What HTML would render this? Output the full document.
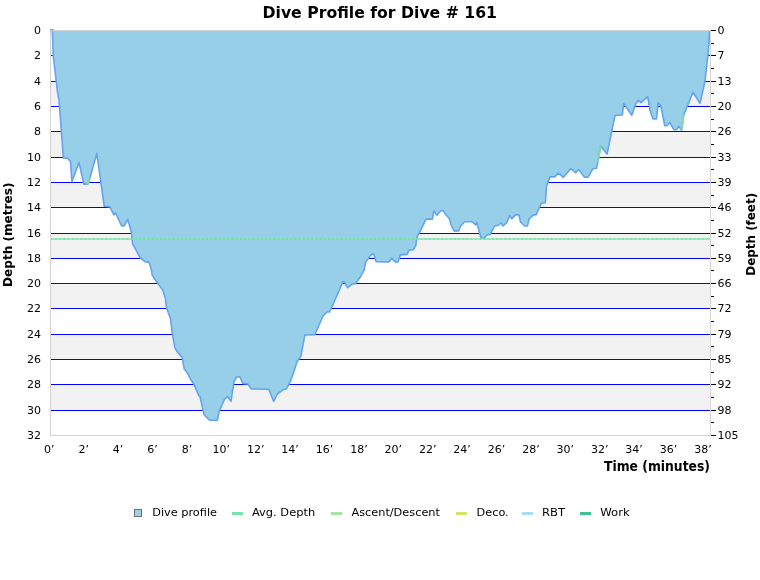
<!DOCTYPE html>
<html><head><meta charset="utf-8"><title>Dive Profile for Dive # 161</title>
<style>
html,body{margin:0;padding:0;background:#fff;}
svg{display:block;}
text{font-family:"DejaVu Sans","Liberation Sans",sans-serif;fill:#000;}
.b{font-weight:bold;}
.t{font-size:11px;}
</style></head><body>
<svg width="760" height="580" viewBox="0 0 760 580">
<rect width="760" height="580" fill="#fff"/>
<rect x="51" y="81" width="659" height="25" fill="#f2f2f2"/>
<rect x="51" y="131" width="659" height="26" fill="#f2f2f2"/>
<rect x="51" y="182" width="659" height="25" fill="#f2f2f2"/>
<rect x="51" y="233" width="659" height="25" fill="#f2f2f2"/>
<rect x="51" y="283" width="659" height="25" fill="#f2f2f2"/>
<rect x="51" y="334" width="659" height="25" fill="#f2f2f2"/>
<rect x="51" y="384" width="659" height="26" fill="#f2f2f2"/>
<rect x="51" y="55" width="660" height="1" fill="#0000ff"/>
<rect x="51" y="81" width="660" height="1" fill="#0000ff"/>
<rect x="51" y="106" width="660" height="1" fill="#0000ff"/>
<rect x="51" y="131" width="660" height="1" fill="#0000ff"/>
<rect x="51" y="157" width="660" height="1" fill="#0000ff"/>
<rect x="51" y="182" width="660" height="1" fill="#0000ff"/>
<rect x="51" y="207" width="660" height="1" fill="#0000ff"/>
<rect x="51" y="233" width="660" height="1" fill="#0000ff"/>
<rect x="51" y="258" width="660" height="1" fill="#0000ff"/>
<rect x="51" y="283" width="660" height="1" fill="#0000ff"/>
<rect x="51" y="308" width="660" height="1" fill="#0000ff"/>
<rect x="51" y="334" width="660" height="1" fill="#0000ff"/>
<rect x="51" y="359" width="660" height="1" fill="#0000ff"/>
<rect x="51" y="384" width="660" height="1" fill="#0000ff"/>
<rect x="51" y="410" width="660" height="1" fill="#0000ff"/>
<polygon points="52.3,30 53.3,56 57.5,92 59,100 63.4,157.9 67.6,158.3 70.5,161.5 71.9,181.7 79,162.4 83.8,184.1 87.6,184.1 90,177.6 96.8,153.6 104.3,206.3 109.8,206.7 113.8,215 115.4,212.6 121.7,226 124,226 127.7,219.4 131.3,232 132.6,243.9 140,257.4 144.8,261.6 148.8,262.1 151.1,268.5 152.3,275.6 157.5,282.7 163,290.6 165.4,298.6 166.5,308 170.3,318 172.4,333.8 175,348.1 177.4,352 182.2,357.6 184.1,368.7 187.3,372.7 190.9,379.8 194.1,384.6 198.8,395.7 200,396.5 204,414.7 209.6,420.2 217.5,420.2 219.1,411.5 224.4,399.5 227.6,396.5 231,401.4 233.9,381.8 236.7,377 239.9,376.8 242.8,383.4 247.8,384 251.4,389 268.8,389.2 273.7,401.4 277.5,394 282.5,390.1 286.4,388.8 290.4,381.4 294.3,370.3 296.9,362 300.8,356.4 304.8,335 314.8,334.7 323,316 327,312 329.4,312 332.5,305.7 342.8,281.9 344.4,281.9 347.6,287.7 352.4,283.9 355.5,283.6 360.7,276.5 364.3,269.7 365.5,262.4 371.4,254.4 373.8,254.4 376.1,261.6 389.3,261.9 391.5,258.1 395.2,261.9 398,261.9 400.4,254.9 407,254.4 409,250.1 413.4,249.7 415.8,245.7 416.9,237 419.7,232.2 426.1,219.1 432.4,219.1 434,210.8 436.8,215.3 441.1,210.5 443.5,210.8 445.1,214 449.5,218.8 451.4,225.9 454.3,231.1 458.6,231 460.7,226 464.7,221.8 472.4,221.7 475.6,224.9 476.9,222.4 478.8,230 481.1,238.2 484.3,238.2 486.7,235 490.2,234.4 494.6,226 498.6,225.2 501,222.8 503,226 506.5,222.8 509.7,215.7 511.7,218.9 515.5,214.9 518.9,214.9 520.5,222 524.7,226 527.4,226 529.2,218.9 533.4,214.9 536.1,214.9 541.4,203 545.3,202.7 546.6,185.6 550.1,176.9 554.8,176.9 558.3,173 563.3,177.4 570.8,168.6 575.6,172.7 578.8,169.5 584.3,177.1 588,177.1 593,168.7 596.5,168.2 597.8,162.4 600.6,145.7 607,154 615,115.5 622.3,115 623.8,103.7 631.8,115.3 635.8,103.7 638.5,100.3 640.8,102.7 647.8,96.7 650,110.6 653,119 656.5,119 658.2,102.7 660.9,106 664.7,125.7 666.8,125.7 669.6,122.5 674.1,129.8 676.5,129.8 678.8,126.3 681.5,130.3 683.6,115.2 693,92.3 700,103.4 705,81 707.9,55.5 709,43 709.6,30 710,30 52.3,30" fill="#97cfe9"/>
<polyline points="52.3,30 53.3,56 57.5,92 59,100 63.4,157.9 67.6,158.3 70.5,161.5 71.9,181.7 79,162.4 83.8,184.1 87.6,184.1 90,177.6 96.8,153.6 104.3,206.3 109.8,206.7 113.8,215 115.4,212.6 121.7,226 124,226 127.7,219.4 131.3,232 132.6,243.9 140,257.4 144.8,261.6 148.8,262.1 151.1,268.5 152.3,275.6 157.5,282.7 163,290.6 165.4,298.6 166.5,308 170.3,318 172.4,333.8 175,348.1 177.4,352 182.2,357.6 184.1,368.7 187.3,372.7 190.9,379.8 194.1,384.6 198.8,395.7 200,396.5 204,414.7 209.6,420.2 217.5,420.2 219.1,411.5 224.4,399.5 227.6,396.5 231,401.4 233.9,381.8 236.7,377 239.9,376.8 242.8,383.4 247.8,384 251.4,389 268.8,389.2 273.7,401.4 277.5,394 282.5,390.1 286.4,388.8 290.4,381.4 294.3,370.3 296.9,362 300.8,356.4 304.8,335 314.8,334.7 323,316 327,312 329.4,312 332.5,305.7 342.8,281.9 344.4,281.9 347.6,287.7 352.4,283.9 355.5,283.6 360.7,276.5 364.3,269.7 365.5,262.4 371.4,254.4 373.8,254.4 376.1,261.6 389.3,261.9 391.5,258.1 395.2,261.9 398,261.9 400.4,254.9 407,254.4 409,250.1 413.4,249.7 415.8,245.7 416.9,237 419.7,232.2 426.1,219.1 432.4,219.1 434,210.8 436.8,215.3 441.1,210.5 443.5,210.8 445.1,214 449.5,218.8 451.4,225.9 454.3,231.1 458.6,231 460.7,226 464.7,221.8 472.4,221.7 475.6,224.9 476.9,222.4 478.8,230 481.1,238.2 484.3,238.2 486.7,235 490.2,234.4 494.6,226 498.6,225.2 501,222.8 503,226 506.5,222.8 509.7,215.7 511.7,218.9 515.5,214.9 518.9,214.9 520.5,222 524.7,226 527.4,226 529.2,218.9 533.4,214.9 536.1,214.9 541.4,203 545.3,202.7 546.6,185.6 550.1,176.9 554.8,176.9 558.3,173 563.3,177.4 570.8,168.6 575.6,172.7 578.8,169.5 584.3,177.1 588,177.1 593,168.7 596.5,168.2 597.8,162.4 600.6,145.7 607,154 615,115.5 622.3,115 623.8,103.7 631.8,115.3 635.8,103.7 638.5,100.3 640.8,102.7 647.8,96.7 650,110.6 653,119 656.5,119 658.2,102.7 660.9,106 664.7,125.7 666.8,125.7 669.6,122.5 674.1,129.8 676.5,129.8 678.8,126.3 681.5,130.3 683.6,115.2 693,92.3 700,103.4 705,81 707.9,55.5 709,43 709.6,30" fill="none" stroke="#62a4f0" stroke-width="1.6" stroke-linejoin="round"/>
<path d="M87.6,184.1 L90,177.6 M597.8,162.4 L600.6,145.7 M681.5,130.3 L683.6,115.2" stroke="#7fdca0" stroke-width="2" fill="none"/>
<rect x="51" y="238" width="659" height="2" fill="#7fe6aa" fill-opacity="0.72"/><path d="M51,239H710" stroke="#4fdc90" stroke-opacity="0.35" stroke-width="2" stroke-dasharray="1.6 2.6" fill="none"/>
<rect x="50" y="30" width="1" height="406" fill="#d4d4d4"/>
<rect x="710" y="30" width="1" height="406" fill="#d4d4d4"/>
<rect x="50" y="435" width="661" height="1" fill="#d4d4d4"/>
<rect x="51" y="30" width="660" height="1" fill="#d4d4d4"/>
<rect x="50" y="29" width="3.6" height="1.3" fill="#6fabf0"/>
<rect x="711" y="30" width="5" height="1" fill="#000"/>
<rect x="711" y="43" width="3" height="1" fill="#000"/>
<rect x="711" y="55" width="5" height="1" fill="#000"/>
<rect x="711" y="68" width="3" height="1" fill="#000"/>
<rect x="711" y="81" width="5" height="1" fill="#000"/>
<rect x="711" y="93" width="3" height="1" fill="#000"/>
<rect x="711" y="106" width="5" height="1" fill="#000"/>
<rect x="711" y="119" width="3" height="1" fill="#000"/>
<rect x="711" y="131" width="5" height="1" fill="#000"/>
<rect x="711" y="144" width="3" height="1" fill="#000"/>
<rect x="711" y="157" width="5" height="1" fill="#000"/>
<rect x="711" y="169" width="3" height="1" fill="#000"/>
<rect x="711" y="182" width="5" height="1" fill="#000"/>
<rect x="711" y="195" width="3" height="1" fill="#000"/>
<rect x="711" y="207" width="5" height="1" fill="#000"/>
<rect x="711" y="220" width="3" height="1" fill="#000"/>
<rect x="711" y="233" width="5" height="1" fill="#000"/>
<rect x="711" y="245" width="3" height="1" fill="#000"/>
<rect x="711" y="258" width="5" height="1" fill="#000"/>
<rect x="711" y="270" width="3" height="1" fill="#000"/>
<rect x="711" y="283" width="5" height="1" fill="#000"/>
<rect x="711" y="296" width="3" height="1" fill="#000"/>
<rect x="711" y="308" width="5" height="1" fill="#000"/>
<rect x="711" y="321" width="3" height="1" fill="#000"/>
<rect x="711" y="334" width="5" height="1" fill="#000"/>
<rect x="711" y="346" width="3" height="1" fill="#000"/>
<rect x="711" y="359" width="5" height="1" fill="#000"/>
<rect x="711" y="372" width="3" height="1" fill="#000"/>
<rect x="711" y="384" width="5" height="1" fill="#000"/>
<rect x="711" y="397" width="3" height="1" fill="#000"/>
<rect x="711" y="410" width="5" height="1" fill="#000"/>
<rect x="711" y="422" width="3" height="1" fill="#000"/>
<rect x="711" y="435" width="5" height="1" fill="#000"/>
<text class="t" x="41" y="34" text-anchor="end">0</text>
<text class="t" x="41" y="59" text-anchor="end">2</text>
<text class="t" x="41" y="85" text-anchor="end">4</text>
<text class="t" x="41" y="110" text-anchor="end">6</text>
<text class="t" x="41" y="135" text-anchor="end">8</text>
<text class="t" x="41" y="161" text-anchor="end">10</text>
<text class="t" x="41" y="186" text-anchor="end">12</text>
<text class="t" x="41" y="211" text-anchor="end">14</text>
<text class="t" x="41" y="237" text-anchor="end">16</text>
<text class="t" x="41" y="262" text-anchor="end">18</text>
<text class="t" x="41" y="287" text-anchor="end">20</text>
<text class="t" x="41" y="312" text-anchor="end">22</text>
<text class="t" x="41" y="338" text-anchor="end">24</text>
<text class="t" x="41" y="363" text-anchor="end">26</text>
<text class="t" x="41" y="388" text-anchor="end">28</text>
<text class="t" x="41" y="414" text-anchor="end">30</text>
<text class="t" x="41" y="439" text-anchor="end">32</text>
<text class="t" x="717.5" y="34">0</text>
<text class="t" x="717.5" y="59">7</text>
<text class="t" x="717.5" y="85">13</text>
<text class="t" x="717.5" y="110">20</text>
<text class="t" x="717.5" y="135">26</text>
<text class="t" x="717.5" y="161">33</text>
<text class="t" x="717.5" y="186">39</text>
<text class="t" x="717.5" y="211">46</text>
<text class="t" x="717.5" y="237">52</text>
<text class="t" x="717.5" y="262">59</text>
<text class="t" x="717.5" y="287">66</text>
<text class="t" x="717.5" y="312">72</text>
<text class="t" x="717.5" y="338">79</text>
<text class="t" x="717.5" y="363">85</text>
<text class="t" x="717.5" y="388">92</text>
<text class="t" x="717.5" y="414">98</text>
<text class="t" x="717.5" y="439">105</text>
<text class="t" x="49.3" y="453" text-anchor="middle">0’</text>
<text class="t" x="83.7" y="453" text-anchor="middle">2’</text>
<text class="t" x="118.1" y="453" text-anchor="middle">4’</text>
<text class="t" x="152.5" y="453" text-anchor="middle">6’</text>
<text class="t" x="186.9" y="453" text-anchor="middle">8’</text>
<text class="t" x="221.3" y="453" text-anchor="middle">10’</text>
<text class="t" x="255.7" y="453" text-anchor="middle">12’</text>
<text class="t" x="290.1" y="453" text-anchor="middle">14’</text>
<text class="t" x="324.5" y="453" text-anchor="middle">16’</text>
<text class="t" x="358.9" y="453" text-anchor="middle">18’</text>
<text class="t" x="393.3" y="453" text-anchor="middle">20’</text>
<text class="t" x="427.7" y="453" text-anchor="middle">22’</text>
<text class="t" x="462.1" y="453" text-anchor="middle">24’</text>
<text class="t" x="496.5" y="453" text-anchor="middle">26’</text>
<text class="t" x="530.9" y="453" text-anchor="middle">28’</text>
<text class="t" x="565.3" y="453" text-anchor="middle">30’</text>
<text class="t" x="599.7" y="453" text-anchor="middle">32’</text>
<text class="t" x="634.1" y="453" text-anchor="middle">34’</text>
<text class="t" x="668.5" y="453" text-anchor="middle">36’</text>
<text class="t" x="702.9" y="453" text-anchor="middle">38’</text>
<text class="b" x="262.5" y="18" font-size="16.6" textLength="234.5" lengthAdjust="spacingAndGlyphs">Dive Profile for Dive # 161</text>
<text class="b" x="604" y="471" font-size="13.4" textLength="106" lengthAdjust="spacingAndGlyphs">Time (minutes)</text>
<text class="b" transform="translate(11.5,287) rotate(-90)" font-size="12.8" textLength="104.5" lengthAdjust="spacingAndGlyphs">Depth (metres)</text>
<text class="b" transform="translate(755,275.7) rotate(-90)" font-size="12.8" textLength="82.8" lengthAdjust="spacingAndGlyphs">Depth (feet)</text>
<rect x="134.5" y="509.5" width="7" height="7" fill="#97d2ef" stroke="#707070" stroke-width="1"/>
<text class="t" x="152.2" y="516" textLength="64.8" lengthAdjust="spacingAndGlyphs">Dive profile</text>
<rect x="232" y="512" width="11" height="3" fill="#74e3b0"/>
<text class="t" x="251.9" y="516" textLength="63.3" lengthAdjust="spacingAndGlyphs">Avg. Depth</text>
<rect x="331" y="512" width="11" height="3" fill="#9fe89f"/>
<text class="t" x="351.4" y="516" textLength="88.6" lengthAdjust="spacingAndGlyphs">Ascent/Descent</text>
<rect x="456" y="512" width="11" height="3" fill="#d6e26a"/>
<text class="t" x="476.5" y="516" textLength="32.2" lengthAdjust="spacingAndGlyphs">Deco.</text>
<rect x="522" y="512" width="11" height="3" fill="#a6dcf2"/>
<text class="t" x="542.1" y="516" textLength="23" lengthAdjust="spacingAndGlyphs">RBT</text>
<rect x="580" y="512" width="11" height="3" fill="#3cc296"/>
<text class="t" x="600.3" y="516" textLength="29.4" lengthAdjust="spacingAndGlyphs">Work</text>
</svg>
</body></html>
